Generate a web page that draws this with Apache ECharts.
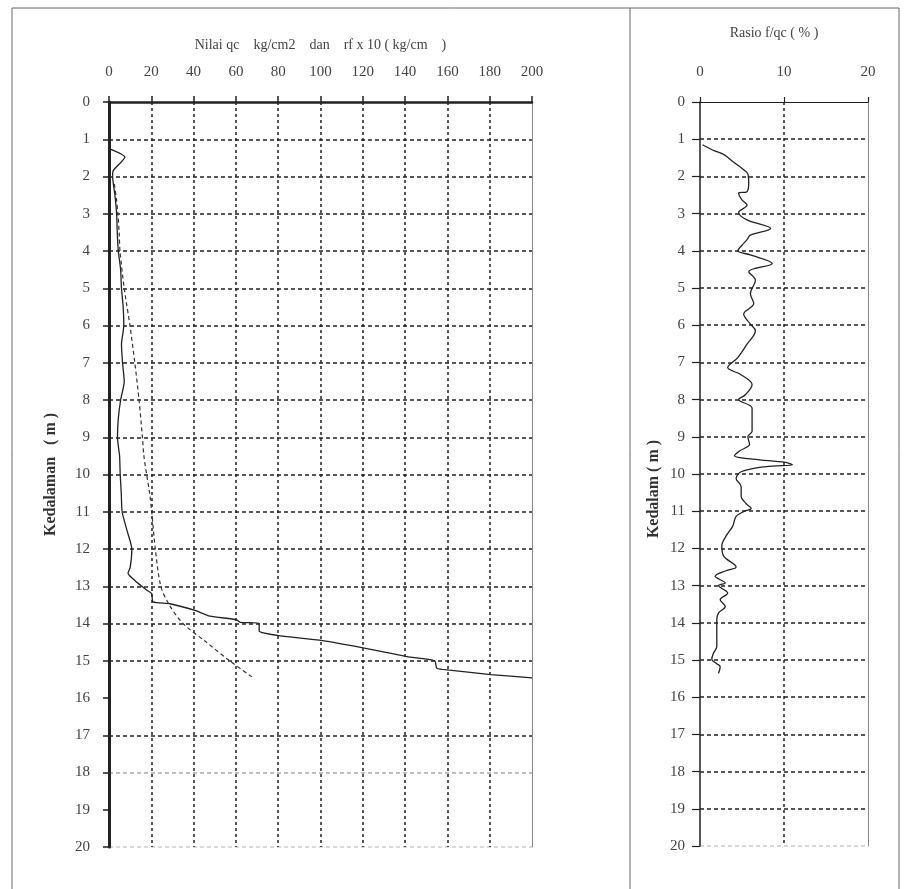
<!DOCTYPE html>
<html>
<head>
<meta charset="utf-8">
<script src="https://cdn.jsdelivr.net/npm/echarts@6/dist/echarts.min.js"></script>
<style>
  html, body { margin: 0; padding: 0; background: #fff; }
  #chart { width: 904px; height: 889px; }
</style>
</head>
<body>
<div id="chart"></div>
<script>
// sondir: qc (garis penuh) dan fs x 10 (garis putus)
var qcDepth = [1.25, 1.48, 1.84, 2.0, 2.5, 3, 3.5, 4, 4.5, 5, 5.5, 6, 6.5, 7, 7.5, 8, 8.5, 9, 9.5, 10, 10.5, 11, 11.5, 12, 12.5, 12.65, 12.85, 13.1, 13.2, 13.42, 13.47, 13.65, 13.8, 13.9, 13.97, 14.0, 14.2, 14.25, 14.33, 14.46, 14.66, 14.89, 15.0, 15.2, 15.25, 15.37, 15.46];
var qcValue = [0, 7.5, 2, 1.7, 2.8, 3.6, 3.9, 4.4, 5.5, 5.9, 6.7, 7, 5.9, 6.4, 7.2, 5.5, 4.4, 4, 5, 5.3, 5.8, 6.2, 8.5, 10.8, 10, 9, 12.3, 17.8, 20.2, 20.8, 28.8, 40.7, 47.7, 60.4, 62, 71, 71, 73, 81, 101, 120.7, 140.8, 154, 155, 161, 180.5, 200];

var fsDepth = [2.2, 2.6, 3, 3.5, 4, 5, 6, 7, 8, 9, 9.5, 10, 10.5, 11, 12, 13, 13.5, 14, 14.5, 15, 15.45];
var fsValue = [2.5, 3.5, 4.2, 4.8, 5.2, 7.2, 9.9, 12.2, 14.2, 15.8, 16.5, 17.8, 19.2, 20.2, 21.9, 24.5, 28.5, 35, 46, 57, 68];

// rasio f/qc (%)
var ratioDepth = [1.15, 1.29, 1.42, 1.6, 1.82, 1.94, 2.18, 2.41, 2.45, 2.63, 2.77, 2.97, 3.17, 3.4, 3.58, 3.7, 3.85, 4.0, 4.11, 4.34, 4.56, 4.79, 5.15, 5.42, 5.7, 5.97, 6.15, 6.51, 6.87, 7.14, 7.32, 7.6, 7.87, 8.0, 8.23, 8.85, 9.0, 9.2, 9.38, 9.51, 9.6, 9.69, 9.75, 9.8, 9.94, 10.12, 10.34, 10.6, 10.8, 10.93, 11.0, 11.14, 11.4, 11.67, 11.92, 12.2, 12.5, 12.6, 12.75, 12.93, 13.0, 13.2, 13.38, 13.56, 13.74, 13.92, 14.3, 14.64, 14.82, 14.98, 15.1, 15.18, 15.36];
var ratioValue = [0.3, 1.5, 2.9, 3.9, 5.2, 5.7, 5.8, 5.6, 4.6, 5.0, 5.6, 4.6, 5.6, 8.4, 6.0, 5.6, 5.0, 4.5, 6.0, 8.6, 5.8, 6.6, 6.0, 6.4, 5.2, 6.0, 6.6, 5.6, 4.5, 3.3, 4.8, 6.2, 5.4, 4.6, 6.2, 6.2, 5.7, 5.9, 4.7, 4.1, 6.3, 10.2, 11.0, 7.9, 4.9, 4.3, 4.9, 4.9, 5.5, 6.1, 5.3, 4.3, 3.9, 3.1, 2.6, 2.8, 4.3, 3.1, 1.8, 3.0, 2.2, 3.3, 2.4, 3.0, 2.2, 2.0, 2.0, 2.0, 1.6, 1.4, 2.0, 2.4, 2.2];

var qcTicks = [0, 20, 40, 60, 80, 100, 120, 140, 160, 180, 200];
var ratioTicks = [0, 10, 20];

function pairs(xs, ys) {
    return xs.map(function (v, i) { return [v, ys[i]]; });
}

var serif = '"Liberation Serif", "DejaVu Serif", serif';
var ink = '#222';
var txt = '#444';

// warna garis horizontal per kedalaman 0..20 (hasil scan tidak rata)
var leftRowColors = ['transparent', ink, ink, ink, ink, ink, ink, ink, ink, ink, ink, ink, ink, ink, ink, ink,
    'transparent', ink, '#aaa', 'transparent', '#ccc'];
var rightRowColors = ['transparent', ink, ink, ink, ink, ink, ink, ink, ink, ink, ink, ink, ink, ink, ink, ink,
    ink, ink, ink, ink, '#ccc'];

var chart = echarts.init(document.getElementById('chart'));
var option = {
    backgroundColor: '#fff',
    animation: false,
    grid: [
        { left: 109, top: 102, width: 423, height: 745 },
        { left: 700, top: 102, width: 168, height: 744 }
    ],
    xAxis: [
        {
            gridIndex: 0, type: 'value', position: 'top',
            min: 0, max: 200, interval: 20,
            name: 'Nilai qc    kg/cm2    dan    rf x 10 ( kg/cm    )',
            nameLocation: 'middle', nameGap: 50,
            nameTextStyle: { fontFamily: serif, fontSize: 14, color: txt },
            axisLine: { lineStyle: { color: ink, width: 2.5 } },
            axisTick: { length: 6, lineStyle: { color: ink, width: 1.5 } },
            axisLabel: { fontFamily: serif, fontSize: 15, color: txt, margin: 22,
                formatter: function (v) { return qcTicks.indexOf(v) >= 0 ? v : ''; } },
            splitLine: { show: true, lineStyle: {
                color: ['transparent', ink, ink, ink, ink, ink, ink, ink, ink, ink, 'transparent'],
                type: [3, 3], width: 1.5 } }
        },
        {
            gridIndex: 1, type: 'value', position: 'top',
            min: 0, max: 20, interval: 10,
            name: 'Rasio f/qc ( % )',
            nameLocation: 'middle', nameGap: 62,
            nameTextStyle: { fontFamily: serif, fontSize: 14, color: txt, padding: [0, 20, 0, 0] },
            axisLine: { lineStyle: { color: ink, width: 1.2 } },
            axisTick: { length: 5, lineStyle: { color: ink, width: 1.2 } },
            axisLabel: { fontFamily: serif, fontSize: 15, color: txt, margin: 22,
                formatter: function (v) { return ratioTicks.indexOf(v) >= 0 ? v : ''; } },
            splitLine: { show: true, lineStyle: {
                color: ['transparent', ink, 'transparent'], type: [3, 3], width: 1.5 } }
        }
    ],
    yAxis: [
        {
            gridIndex: 0, type: 'value', inverse: true,
            min: 0, max: 20, interval: 1,
            name: 'Kedalaman   ( m )',
            nameLocation: 'middle', nameGap: 50, nameRotate: 90,
            nameTextStyle: { fontFamily: serif, fontSize: 16, fontWeight: 'bold', color: '#333' },
            axisLine: { show: true, lineStyle: { color: ink, width: 3 } },
            axisTick: { length: 6, lineStyle: { color: ink, width: 1.5 } },
            axisLabel: { fontFamily: serif, fontSize: 15, color: txt, margin: 19 },
            splitLine: { show: true, lineStyle: { color: leftRowColors, type: [4, 3], width: 1.5 } }
        },
        {
            gridIndex: 0, type: 'value', inverse: true, position: 'right',
            min: 0, max: 20,
            axisLine: { show: true, lineStyle: { color: '#888', width: 1 } },
            axisTick: { show: false }, axisLabel: { show: false }, splitLine: { show: false }
        },
        {
            gridIndex: 1, type: 'value', inverse: true,
            min: 0, max: 20, interval: 1,
            name: 'Kedalam ( m )',
            nameLocation: 'middle', nameGap: 38, nameRotate: 90,
            nameTextStyle: { fontFamily: serif, fontSize: 16, fontWeight: 'bold', color: '#333',
                padding: [0, 30, 0, 0] },
            axisLine: { show: true, lineStyle: { color: ink, width: 1.5 } },
            axisTick: { length: 8, lineStyle: { color: ink, width: 1.2 } },
            axisLabel: { fontFamily: serif, fontSize: 15, color: txt, margin: 15 },
            splitLine: { show: true, lineStyle: { color: rightRowColors, type: [4, 3], width: 1.5 } }
        },
        {
            gridIndex: 1, type: 'value', inverse: true, position: 'right',
            min: 0, max: 20,
            axisLine: { show: true, lineStyle: { color: '#888', width: 1 } },
            axisTick: { show: false }, axisLabel: { show: false }, splitLine: { show: false }
        }
    ],
    series: [
        {
            name: 'qc', type: 'line', xAxisIndex: 0, yAxisIndex: 0,
            data: pairs(qcValue, qcDepth), showSymbol: false, smooth: 0.2,
            lineStyle: { color: ink, width: 1.3 }
        },
        {
            name: 'fs x 10', type: 'line', xAxisIndex: 0, yAxisIndex: 0,
            data: pairs(fsValue, fsDepth), showSymbol: false, smooth: 0.3,
            lineStyle: { color: '#333', width: 1.2, type: [4, 3] }
        },
        {
            name: 'f/qc', type: 'line', xAxisIndex: 1, yAxisIndex: 2,
            data: pairs(ratioValue, ratioDepth), showSymbol: false, smooth: 0.35,
            lineStyle: { color: ink, width: 1.3 }
        }
    ],
    graphic: [
        { type: 'line', shape: { x1: 12, y1: 8, x2: 899, y2: 8 }, style: { stroke: '#666', lineWidth: 1 } },
        { type: 'line', shape: { x1: 12, y1: 8, x2: 12, y2: 889 }, style: { stroke: '#666', lineWidth: 1 } },
        { type: 'line', shape: { x1: 630, y1: 8, x2: 630, y2: 889 }, style: { stroke: '#666', lineWidth: 1 } },
        { type: 'line', shape: { x1: 899, y1: 8, x2: 899, y2: 889 }, style: { stroke: '#666', lineWidth: 1 } }
    ]
};
chart.setOption(option);
</script>
</body>
</html>
